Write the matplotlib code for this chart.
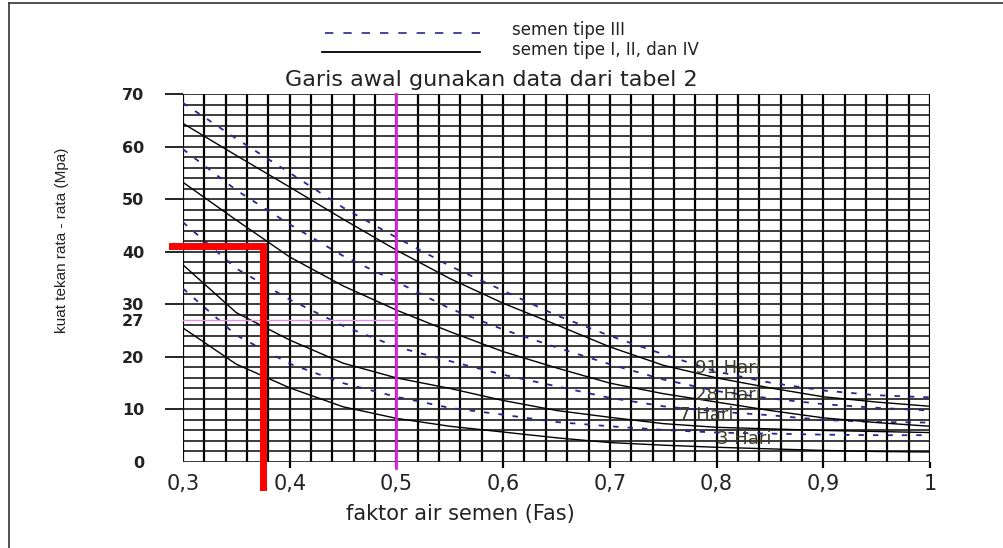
"""
Grafik hubungan faktor air semen dan kuat tekan beton (semen tipe I-IV).
"""

import numpy as np
import matplotlib
matplotlib.use("Agg")
from matplotlib import pyplot as plt
from matplotlib.lines import Line2D

fas = [0.30, 0.35, 0.40, 0.45, 0.50, 0.55, 0.60, 0.65, 0.70, 0.75, 0.80, 0.85, 0.90, 0.95, 1.00]

# semen tipe I, II, dan IV (solid)
tipe1_3hari = [25.5, 18.6, 14.1, 10.5, 8.3, 6.8, 5.7, 4.6, 3.7, 3.2, 2.8, 2.5, 2.2, 2.0, 1.9]
tipe1_7hari = [37.5, 28.4, 23.2, 18.8, 16.0, 14.0, 11.7, 9.8, 8.5, 7.3, 6.6, 6.3, 6.0, 5.8, 5.6]
tipe1_28hari = [53.2, 46.0, 39.0, 33.5, 28.9, 24.8, 21.0, 17.9, 15.0, 13.0, 11.4, 9.8, 8.4, 7.5, 6.8]
tipe1_91hari = [64.4, 58.3, 52.3, 46.2, 40.3, 34.9, 30.2, 26.1, 21.9, 18.4, 16.0, 14.1, 12.4, 11.4, 10.6]

# semen tipe III (dashed)
tipe3_3hari = [33.0, 24.1, 18.7, 15.0, 12.4, 10.3, 9.0, 7.6, 6.8, 6.1, 5.6, 5.4, 5.2, 5.1, 5.1]
tipe3_7hari = [45.6, 36.8, 30.9, 25.9, 21.9, 19.2, 16.6, 14.4, 12.2, 10.6, 9.6, 8.9, 8.0, 7.6, 7.5]
tipe3_28hari = [59.5, 51.7, 45.2, 39.2, 34.3, 29.2, 25.2, 21.8, 18.6, 15.7, 13.5, 12.1, 11.0, 10.3, 9.8]
tipe3_91hari = [68.3, 61.5, 55.0, 48.4, 42.7, 37.3, 32.6, 27.9, 24.0, 20.5, 17.2, 15.1, 13.6, 12.7, 12.3]

curve_labels = ["91 Hari", "28 Hari", "7 Hari", "3 Hari"]

x_ticks = [0.3, 0.4, 0.5, 0.6, 0.7, 0.8, 0.9, 1.0]
x_ticklabels = ["0,3", "0,4", "0,5", "0,6", "0,7", "0,8", "0,9", "1"]
y_ticks = [0, 10, 20, 27, 30, 40, 50, 60, 70]
y_ticklabels = ["0", "10", "20", "27", "30", "40", "50", "60", "70"]

# reading lines drawn on the chart
kuat_target = 41.0
fas_target = 0.375
fas_ref = 0.5
kuat_ref = 27.0

W, H = 1004, 548
fig = plt.figure(figsize=(W / 100, H / 100), dpi=100)
ax = fig.add_axes([183 / W, 1 - 462 / H, 747 / W, 368 / H])
ax.set_xlim(0.3, 1.0)
ax.set_ylim(0, 70)
for s in ax.spines.values():
    s.set_visible(False)

# millimetre-ish grid
ax.vlines(np.arange(0.30, 1.001, 0.02), 0, 70, color="black", lw=1.6, zorder=1)
ax.hlines(np.arange(0, 70.1, 2), 0.3, 1.0, color="#1a1a1a", lw=1.2, zorder=1)
# tick marks outside the grid
ax.hlines(range(10, 71, 10), 0.283, 0.3, color="black", lw=1.2, clip_on=False)
ax.vlines(np.arange(0.4, 1.001, 0.1), -1.2, 0, color="black", lw=1.6, clip_on=False)

ax.set_xticks(x_ticks)
ax.set_xticklabels(x_ticklabels)
ax.set_yticks(y_ticks)
ax.set_yticklabels(y_ticklabels)
ax.tick_params(axis="x", length=0, pad=9, labelsize=15, labelcolor="#222222")
ax.tick_params(axis="y", length=0, pad=28, labelsize=11.5, labelcolor="#222222")
for lab in ax.get_yticklabels():
    lab.set_fontweight("bold")

blue = "#262690"
for ys in [tipe3_3hari, tipe3_7hari, tipe3_28hari, tipe3_91hari]:
    ax.plot(fas, ys, color=blue, lw=1.3, linestyle=(0, (3, 5)), zorder=3)
for ys in [tipe1_3hari, tipe1_7hari, tipe1_28hari, tipe1_91hari]:
    ax.plot(fas, ys, color="black", lw=1.0, zorder=3)

for lab, (lx, ly) in zip(curve_labels, [(0.78, 17.9), (0.78, 12.7), (0.765, 9.0), (0.80, 4.4)]):
    ax.text(lx, ly, lab, fontsize=13, color="#3d3a2a", va="center", ha="left", zorder=4)

# magenta reading line and pink level line
ax.plot([fas_ref, fas_ref], [-1.2, 70], color="#dd22dd", lw=2, zorder=4, clip_on=False)
ax.plot([0.3, fas_ref], [kuat_ref, kuat_ref], color="#e58be5", lw=1, zorder=4)

# red lookup line
ax.plot([0.29, fas_target, fas_target], [kuat_target, kuat_target, -4.7],
        color="#ff0000", lw=5, solid_joinstyle="miter", zorder=5, clip_on=False)

# legend and title
fig.add_artist(Line2D([325 / W, 480 / W], [1 - 33 / H] * 2, color=blue, lw=1.2,
                      linestyle=(0, (5, 6))))
fig.add_artist(Line2D([322 / W, 480 / W], [1 - 52 / H] * 2, color="black", lw=1.3))
fig.text(512 / W, 1 - 30 / H, "semen tipe III", fontsize=12, va="center", color="#222222")
fig.text(512 / W, 1 - 50 / H, "semen tipe I, II, dan IV", fontsize=12, va="center", color="#222222")
fig.text(491 / W, 1 - 80 / H, "Garis awal gunakan data dari tabel 2", fontsize=16,
         ha="center", va="center", color="#222222")

fig.text(460 / W, 1 - 514 / H, "faktor air semen (Fas)", fontsize=15, ha="center",
         va="center", color="#222222")
fig.text(62 / W, 1 - 240 / H, "kuat tekan rata - rata (Mpa)", fontsize=11,
         family="Liberation Sans", rotation=90, ha="center", va="center", color="#222222")

# frame of the embedded picture
fig.add_artist(Line2D([9 / W, 9 / W], [0, 1 - 3 / H], color="#333333", lw=1.2))
fig.add_artist(Line2D([9 / W, 1], [1 - 3 / H, 1 - 3 / H], color="#333333", lw=1.2))

fig.savefig("out.png", dpi=100)
plt.close(fig)
